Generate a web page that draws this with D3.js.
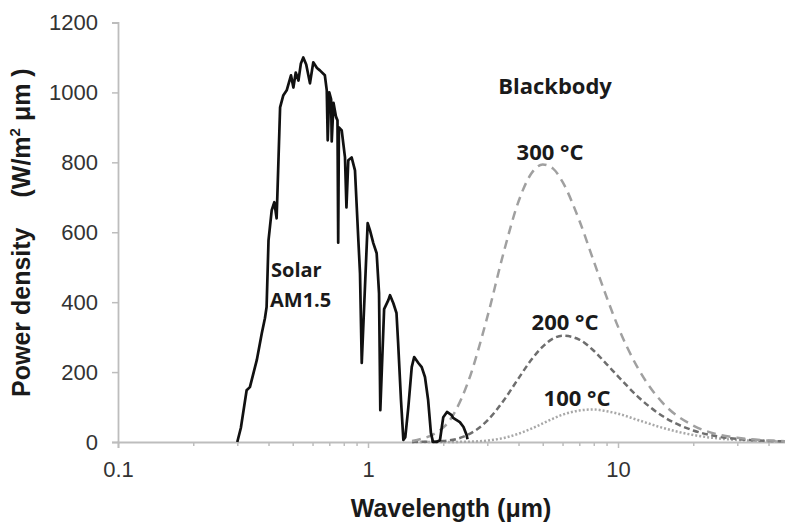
<!DOCTYPE html>
<html>
<head>
<meta charset="utf-8">
<script src="https://cdn.jsdelivr.net/npm/d3@7"></script>
<style>
  body { margin: 0; background: #fff; }
  svg { display: block; }
</style>
</head>
<body>
<div id="chart"></div>
<script>
// chart size
var width = 785;
var height = 528;

// Solar AM1.5 spectrum (wavelength in um, W/m2/um)
var solarWl = [0.300, 0.310, 0.327, 0.337, 0.359, 0.376, 0.387, 0.393, 0.400, 0.412,
  0.422, 0.431, 0.435, 0.445, 0.458, 0.473, 0.483, 0.492, 0.503, 0.514,
  0.527, 0.539, 0.551, 0.566, 0.586, 0.604, 0.625, 0.642, 0.672, 0.684,
  0.690, 0.700, 0.712, 0.716, 0.728, 0.745, 0.755, 0.760, 0.765, 0.785,
  0.809, 0.820, 0.834, 0.860, 0.887, 0.915, 0.929, 0.944, 0.997, 1.018,
  1.050, 1.083, 1.107, 1.120, 1.160, 1.206, 1.225, 1.263, 1.300, 1.320,
  1.355, 1.385, 1.410, 1.450, 1.496, 1.530, 1.590, 1.640, 1.690, 1.740,
  1.785, 1.820, 1.880, 1.940, 2.000, 2.070, 2.160, 2.190, 2.330, 2.410,
  2.480, 2.500];
var solarVal = [0, 40, 148, 157, 234, 311, 354, 386, 577, 663,
  686, 640, 729, 957, 991, 1006, 1029, 1049, 1014, 1057,
  1034, 1083, 1100, 1080, 1026, 1086, 1070, 1063, 1049, 1006,
  863, 1000, 980, 860, 970, 930, 920, 570, 900, 891,
  814, 671, 806, 814, 777, 577, 483, 226, 626, 606,
  569, 540, 426, 91, 380, 406, 420, 397, 369, 283,
  120, 6, 14, 100, 214, 243, 226, 214, 186, 120,
  26, 0, 0, 5, 71, 86, 77, 69, 57, 43,
  20, 8];

// Blackbody curves
var bbWl = [1.5, 2, 2.5, 3, 3.5, 4, 4.5, 5, 5.5, 6, 7, 8, 9, 10, 12, 15, 20, 25, 30, 40, 50];
var bb300 = [2.6, 41, 167, 357, 546, 688, 768, 794, 782, 744, 634, 517, 415, 330, 212, 114, 47, 22, 12, 4.2, 1.8];
var bb200 = [0.1, 2.9, 20, 61, 120, 182, 235, 273, 296, 304, 293, 261, 223, 188, 130, 75, 33, 16, 8.8, 3.2, 1.4];
var bb100 = [0, 0.05, 0.8, 4, 11.7, 23.7, 38, 53, 67, 78, 90, 93, 88, 81, 63, 41, 20, 10.4, 5.9, 2.3, 1.0];

// ticks
var yTicks = [0, 200, 400, 600, 800, 1000, 1200];
var xMajor = [0.1, 1, 10];
var xMinor = [0.2, 0.3, 0.4, 0.5, 0.6, 0.7, 0.8, 0.9, 2, 3, 4, 5, 6, 7, 8, 9, 20, 30, 40];

var svg = d3.select("#chart")
  .append("svg")
  .attr("width", width)
  .attr("height", height);

var x = d3.scaleLog().domain([0.1, 50]).range([118, 118 + 250 * Math.log10(500)]);
var y = d3.scaleLinear().domain([0, 1200]).range([442, 22.5]);

var axisColor = "#bdbdbd";
var tickFont = "'Liberation Sans', Arial, sans-serif";

// y axis
var yAxis = svg.append("g")
  .attr("transform", "translate(118,0)")
  .call(d3.axisLeft(y).tickValues(yTicks).tickSize(6).tickPadding(14).tickFormat(d3.format("d")));

// x axis: minor ticks first, then major ones with labels
var xMinorAxis = svg.append("g")
  .attr("transform", "translate(0,442)")
  .call(d3.axisBottom(x).tickValues(xMinor).tickSize(4).tickFormat(""));

var xAxis = svg.append("g")
  .attr("transform", "translate(0,442)")
  .call(d3.axisBottom(x).tickValues(xMajor).tickSize(6).tickPadding(13).tickFormat(function(d) { return d; }));

[yAxis, xMinorAxis, xAxis].forEach(function(g) {
  g.select(".domain").attr("stroke", axisColor).attr("stroke-width", 1.8);
  g.selectAll(".tick line").attr("stroke", axisColor).attr("stroke-width", 1.5);
  g.selectAll(".tick text")
    .style("font-family", tickFont)
    .style("font-size", "22px")
    .attr("fill", "#333");
});
xMinorAxis.select(".domain").remove();

// lines
var line = d3.line()
  .x(function(d) { return x(d[0]); })
  .y(function(d) { return y(d[1]); });

var smooth = d3.line()
  .x(function(d) { return x(d[0]); })
  .y(function(d) { return y(d[1]); })
  .curve(d3.curveMonotoneX);

var layer = svg.append("g");

layer.append("path")
  .datum(bbWl.map(function(w, i) { return [w, bb100[i]]; }))
  .attr("d", smooth)
  .attr("fill", "none")
  .attr("stroke", "#a8a8a8")
  .attr("stroke-width", 2.5)
  .attr("stroke-dasharray", "2,2");

layer.append("path")
  .datum(bbWl.map(function(w, i) { return [w, bb200[i]]; }))
  .attr("d", smooth)
  .attr("fill", "none")
  .attr("stroke", "#6e6e6e")
  .attr("stroke-width", 2.5)
  .attr("stroke-dasharray", "6,3.5");

layer.append("path")
  .datum(bbWl.map(function(w, i) { return [w, bb300[i]]; }))
  .attr("d", smooth)
  .attr("fill", "none")
  .attr("stroke", "#a0a0a0")
  .attr("stroke-width", 2.5)
  .attr("stroke-dasharray", "9,6");

layer.append("path")
  .datum(solarWl.map(function(w, i) { return [w, solarVal[i]]; }))
  .attr("d", line)
  .attr("fill", "none")
  .attr("stroke", "#111")
  .attr("stroke-width", 2.7)
  .attr("stroke-linejoin", "round");

// axis titles
svg.append("text")
  .attr("x", 451)
  .attr("y", 517)
  .attr("text-anchor", "middle")
  .style("font-family", tickFont)
  .style("font-weight", "bold")
  .style("font-size", "25px")
  .attr("fill", "#1a1a1a")
  .text("Wavelength (μm)");

var yTitle = svg.append("text")
  .attr("transform", "translate(30,397) rotate(-90)")
  .attr("text-anchor", "start")
  .style("font-family", tickFont)
  .style("font-weight", "bold")
  .style("font-size", "25px")
  .attr("fill", "#1a1a1a");
yTitle.append("tspan").text("Power density");
yTitle.append("tspan").attr("dx", 30).text("(W/m");
yTitle.append("tspan").attr("dy", -10).style("font-size", "15px").text("2");
yTitle.append("tspan").attr("dy", 10).text(" μm )");

// annotations
var annFont = "'Open Sans', sans-serif";
function label(txt, px, py, anchor, size) {
  svg.append("text")
    .attr("x", px)
    .attr("y", py)
    .attr("text-anchor", anchor)
    .style("font-family", annFont)
    .style("font-weight", "bold")
    .style("font-size", size + "px")
    .attr("fill", "#1a1a1a")
    .text(txt);
}
label("Solar", 271, 277, "start", 20);
label("AM1.5", 270, 307, "start", 20);
label("Blackbody", 555, 94, "middle", 22);
label("300 °C", 550, 160, "middle", 22);
label("200 °C", 565, 330, "middle", 22);
label("100 °C", 577, 406, "middle", 22);
</script>
</body>
</html>
